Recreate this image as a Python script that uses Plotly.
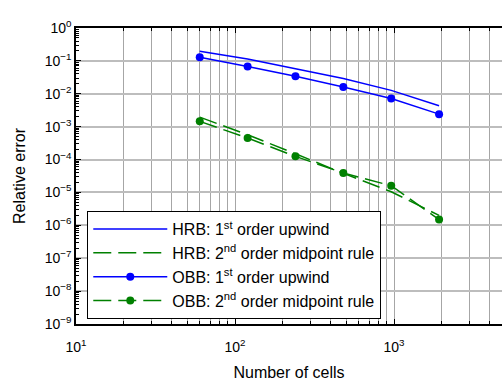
import plotly.graph_objects as go

cells = [60, 120, 240, 480, 960, 1920]
hrb_1st = [0.195, 0.114, 0.058, 0.029, 0.0127, 0.0043]
hrb_2nd = [1.95e-3, 5.7e-4, 1.5e-4, 3.8e-5, 1.05e-5, 2.0e-6]
obb_1st = [0.128, 0.068, 0.034, 0.0161, 0.0072, 0.0024]
obb_2nd = [1.45e-3, 4.5e-4, 1.25e-4, 3.9e-5, 1.6e-5, 1.5e-6]

names = ["HRB: 1<sup>st</sup> order upwind",
         "HRB: 2<sup>nd</sup> order midpoint rule",
         "OBB: 1<sup>st</sup> order upwind",
         "OBB: 2<sup>nd</sup> order midpoint rule"]

y_exps = list(range(-9, 1))
y_ticktext = ["10<sup>%s</sup>" % (str(e).replace("-", "\u2212")) for e in y_exps]
x_exps = [1, 2, 3]
x_ticktext = ["10<sup>%d</sup>" % e for e in x_exps]

BLUE = "#0000ff"
GREEN = "#008000"
DASH = "18px,7px"

fig = go.Figure()
fig.add_trace(go.Scatter(x=cells, y=hrb_1st, mode="lines", name=names[0],
                         line=dict(color=BLUE, width=1.5)))
fig.add_trace(go.Scatter(x=cells, y=hrb_2nd, mode="lines", name=names[1],
                         line=dict(color=GREEN, width=1.5, dash=DASH)))
fig.add_trace(go.Scatter(x=cells, y=obb_1st, mode="lines+markers", name=names[2],
                         line=dict(color=BLUE, width=1.5),
                         marker=dict(color=BLUE, size=8)))
fig.add_trace(go.Scatter(x=cells, y=obb_2nd, mode="lines+markers", name=names[3],
                         line=dict(color=GREEN, width=1.5, dash=DASH),
                         marker=dict(color=GREEN, size=8)))

FONT = "Liberation Sans, Arial, Helvetica, sans-serif"
fig.update_layout(
    width=502, height=381,
    margin=dict(l=76, r=0, t=28, b=57),
    paper_bgcolor="white", plot_bgcolor="white",
    font=dict(family=FONT, size=16, color="black"),
    showlegend=True,
    legend=dict(x=0.026, y=0.382, xanchor="left", yanchor="top",
                bgcolor="white", bordercolor="black", borderwidth=1.2,
                font=dict(family=FONT, size=16, color="black"),
                itemwidth=74, tracegroupgap=0),
    xaxis=dict(type="log", range=[1, 3.679],
               tickvals=[10 ** e for e in x_exps], ticktext=x_ticktext,
               ticks="inside", ticklen=5, tickcolor="black",
               ticklabelstandoff=9,
               showline=True, linecolor="black", linewidth=1.5, mirror="ticks",
               showgrid=True, gridcolor="#a6a6a6", gridwidth=1.2,
               minor=dict(dtick="D1", ticks="inside", ticklen=3, tickcolor="black",
                          showgrid=True, gridcolor="#a6a6a6", gridwidth=1.2),
               zeroline=False, automargin=False,
               title=dict(text="Number of cells", standoff=14,
                          font=dict(family=FONT, size=16)),
               tickfont=dict(family=FONT, size=14)),
    yaxis=dict(type="log", range=[-9, 0],
               tickvals=[10.0 ** e for e in y_exps], ticktext=y_ticktext,
               ticks="inside", ticklen=5, tickcolor="black",
               showline=True, linecolor="black", linewidth=1.5, mirror=False,
               showgrid=True, gridcolor="#bdbdbd", gridwidth=2,
               minor=dict(dtick="D1", ticks="inside", ticklen=3, tickcolor="black",
                          showgrid=False),
               zeroline=False, automargin=False,
               title=dict(text="Relative error", standoff=15,
                          font=dict(family=FONT, size=16)),
               tickfont=dict(family=FONT, size=14)),
)

fig.write_html("out.html")
